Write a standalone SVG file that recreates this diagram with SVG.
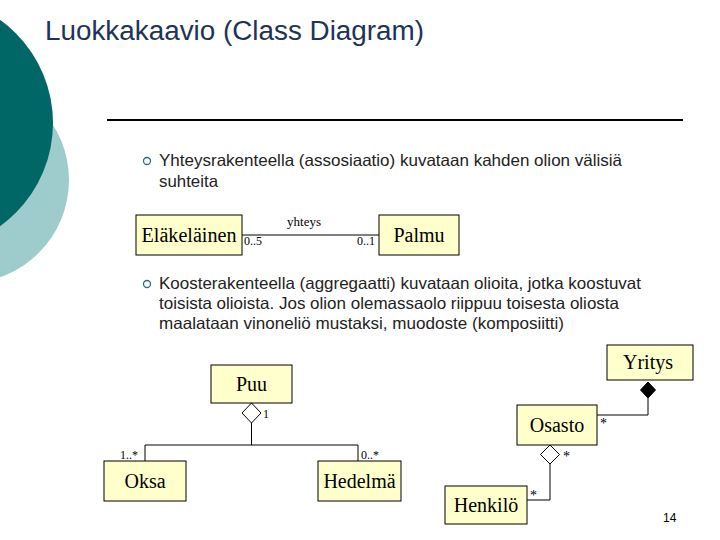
<svg xmlns="http://www.w3.org/2000/svg" width="720" height="540" viewBox="0 0 720 540">
<style>
.title{font-family:"Liberation Sans",Arial,sans-serif;font-size:27px;fill:#1f3358}
.body{font-family:"Liberation Sans",Arial,sans-serif;font-size:16.5px;fill:#222}
.box{fill:#ffffcc;stroke:#000;stroke-width:1}
.cls{font-family:"Liberation Serif","Times New Roman",serif;font-size:20px;fill:#000;text-anchor:middle}
.mult{font-family:"Liberation Serif","Times New Roman",serif;font-size:12px;fill:#000}
.ln{fill:none;stroke:#000;stroke-width:1}
.bul{fill:none;stroke:#2a6f73;stroke-width:1.3}
</style>
<rect width="720" height="540" fill="#fff"/>
<g id="background">
<circle cx="-34" cy="180" r="103" fill="#9ecbcc"/>
<circle cx="-74" cy="123" r="127" fill="#006766"/>
</g>
<text class="title" x="45" y="40" textLength="379" lengthAdjust="spacingAndGlyphs">Luokkakaavio (Class Diagram)</text>
<line x1="107" y1="120" x2="683" y2="120" stroke="#000" stroke-width="2"/>
<g id="text1">
<circle class="bul" cx="147" cy="161" r="3.5"/>
<text class="body" x="159" y="166" textLength="463" lengthAdjust="spacingAndGlyphs">Yhteysrakenteella (assosiaatio) kuvataan kahden olion välisiä</text>
<text class="body" x="159" y="187" textLength="59" lengthAdjust="spacingAndGlyphs">suhteita</text>
</g>
<g id="text2">
<circle class="bul" cx="147" cy="284" r="3.5"/>
<text class="body" x="159" y="289" textLength="482" lengthAdjust="spacingAndGlyphs">Koosterakenteella (aggregaatti) kuvataan olioita, jotka koostuvat</text>
<text class="body" x="159" y="309" textLength="460" lengthAdjust="spacingAndGlyphs">toisista olioista. Jos olion olemassaolo riippuu toisesta oliosta</text>
<text class="body" x="159" y="329" textLength="405" lengthAdjust="spacingAndGlyphs">maalataan vinoneliö mustaksi, muodoste (komposiitti)</text>
</g>
<g id="connectors">
<line class="ln" x1="242" y1="235" x2="379" y2="235"/>
<text class="mult" x="304" y="226" text-anchor="middle" style="font-size:13px">yhteys</text>
<text class="mult" x="244" y="245">0..5</text>
<text class="mult" x="357" y="245">0..1</text>
<polygon points="251.5,403 261,413 251.5,423 242,413" fill="#fff" stroke="#000"/>
<text class="mult" x="263" y="418">1</text>
<polyline class="ln" points="251.5,423 251.5,445"/>
<polyline class="ln" points="145,461 145,445 358,445 358,461"/>
<text class="mult" x="120" y="459">1..*</text>
<text class="mult" x="361" y="459">0..*</text>
<polygon points="648,382 655.5,390 648,398 640.5,390" fill="#000" stroke="#000"/>
<polyline class="ln" points="648,398 648,415 597,415"/>
<text class="mult" x="600" y="428" style="font-size:14px">*</text>
<polygon points="550,445 559.5,454.5 550,464 540.5,454.5" fill="#fff" stroke="#000"/>
<text class="mult" x="563" y="461" style="font-size:14px">*</text>
<polyline class="ln" points="550,464 550,500 527,500"/>
<text class="mult" x="530" y="500" style="font-size:14px">*</text>
</g>
<g id="Elakelainen"><rect class="box" x="136" y="215" width="106" height="40"/><text class="cls" x="189" y="242" textLength="95" lengthAdjust="spacingAndGlyphs">Eläkeläinen</text></g>
<g id="Palmu"><rect class="box" x="379" y="215" width="80" height="40"/><text class="cls" x="419" y="242">Palmu</text></g>
<g id="Puu"><rect class="box" x="211" y="365" width="81" height="38"/><text class="cls" x="251.5" y="391">Puu</text></g>
<g id="Oksa"><rect class="box" x="104" y="461" width="82" height="40"/><text class="cls" x="145" y="488">Oksa</text></g>
<g id="Hedelma"><rect class="box" x="318" y="461" width="83" height="40"/><text class="cls" x="359.5" y="488">Hedelmä</text></g>
<g id="Yritys"><rect class="box" x="607" y="345" width="86" height="35"/><text class="cls" x="648" y="369">Yritys</text></g>
<g id="Osasto"><rect class="box" x="517" y="405" width="80" height="40"/><text class="cls" x="557" y="432">Osasto</text></g>
<g id="Henkilo"><rect class="box" x="445" y="486" width="82" height="38"/><text class="cls" x="486" y="512">Henkilö</text></g>
<text x="663" y="522" style="font-family:'Liberation Sans',Arial,sans-serif;font-size:12px;fill:#000">14</text>
</svg>
